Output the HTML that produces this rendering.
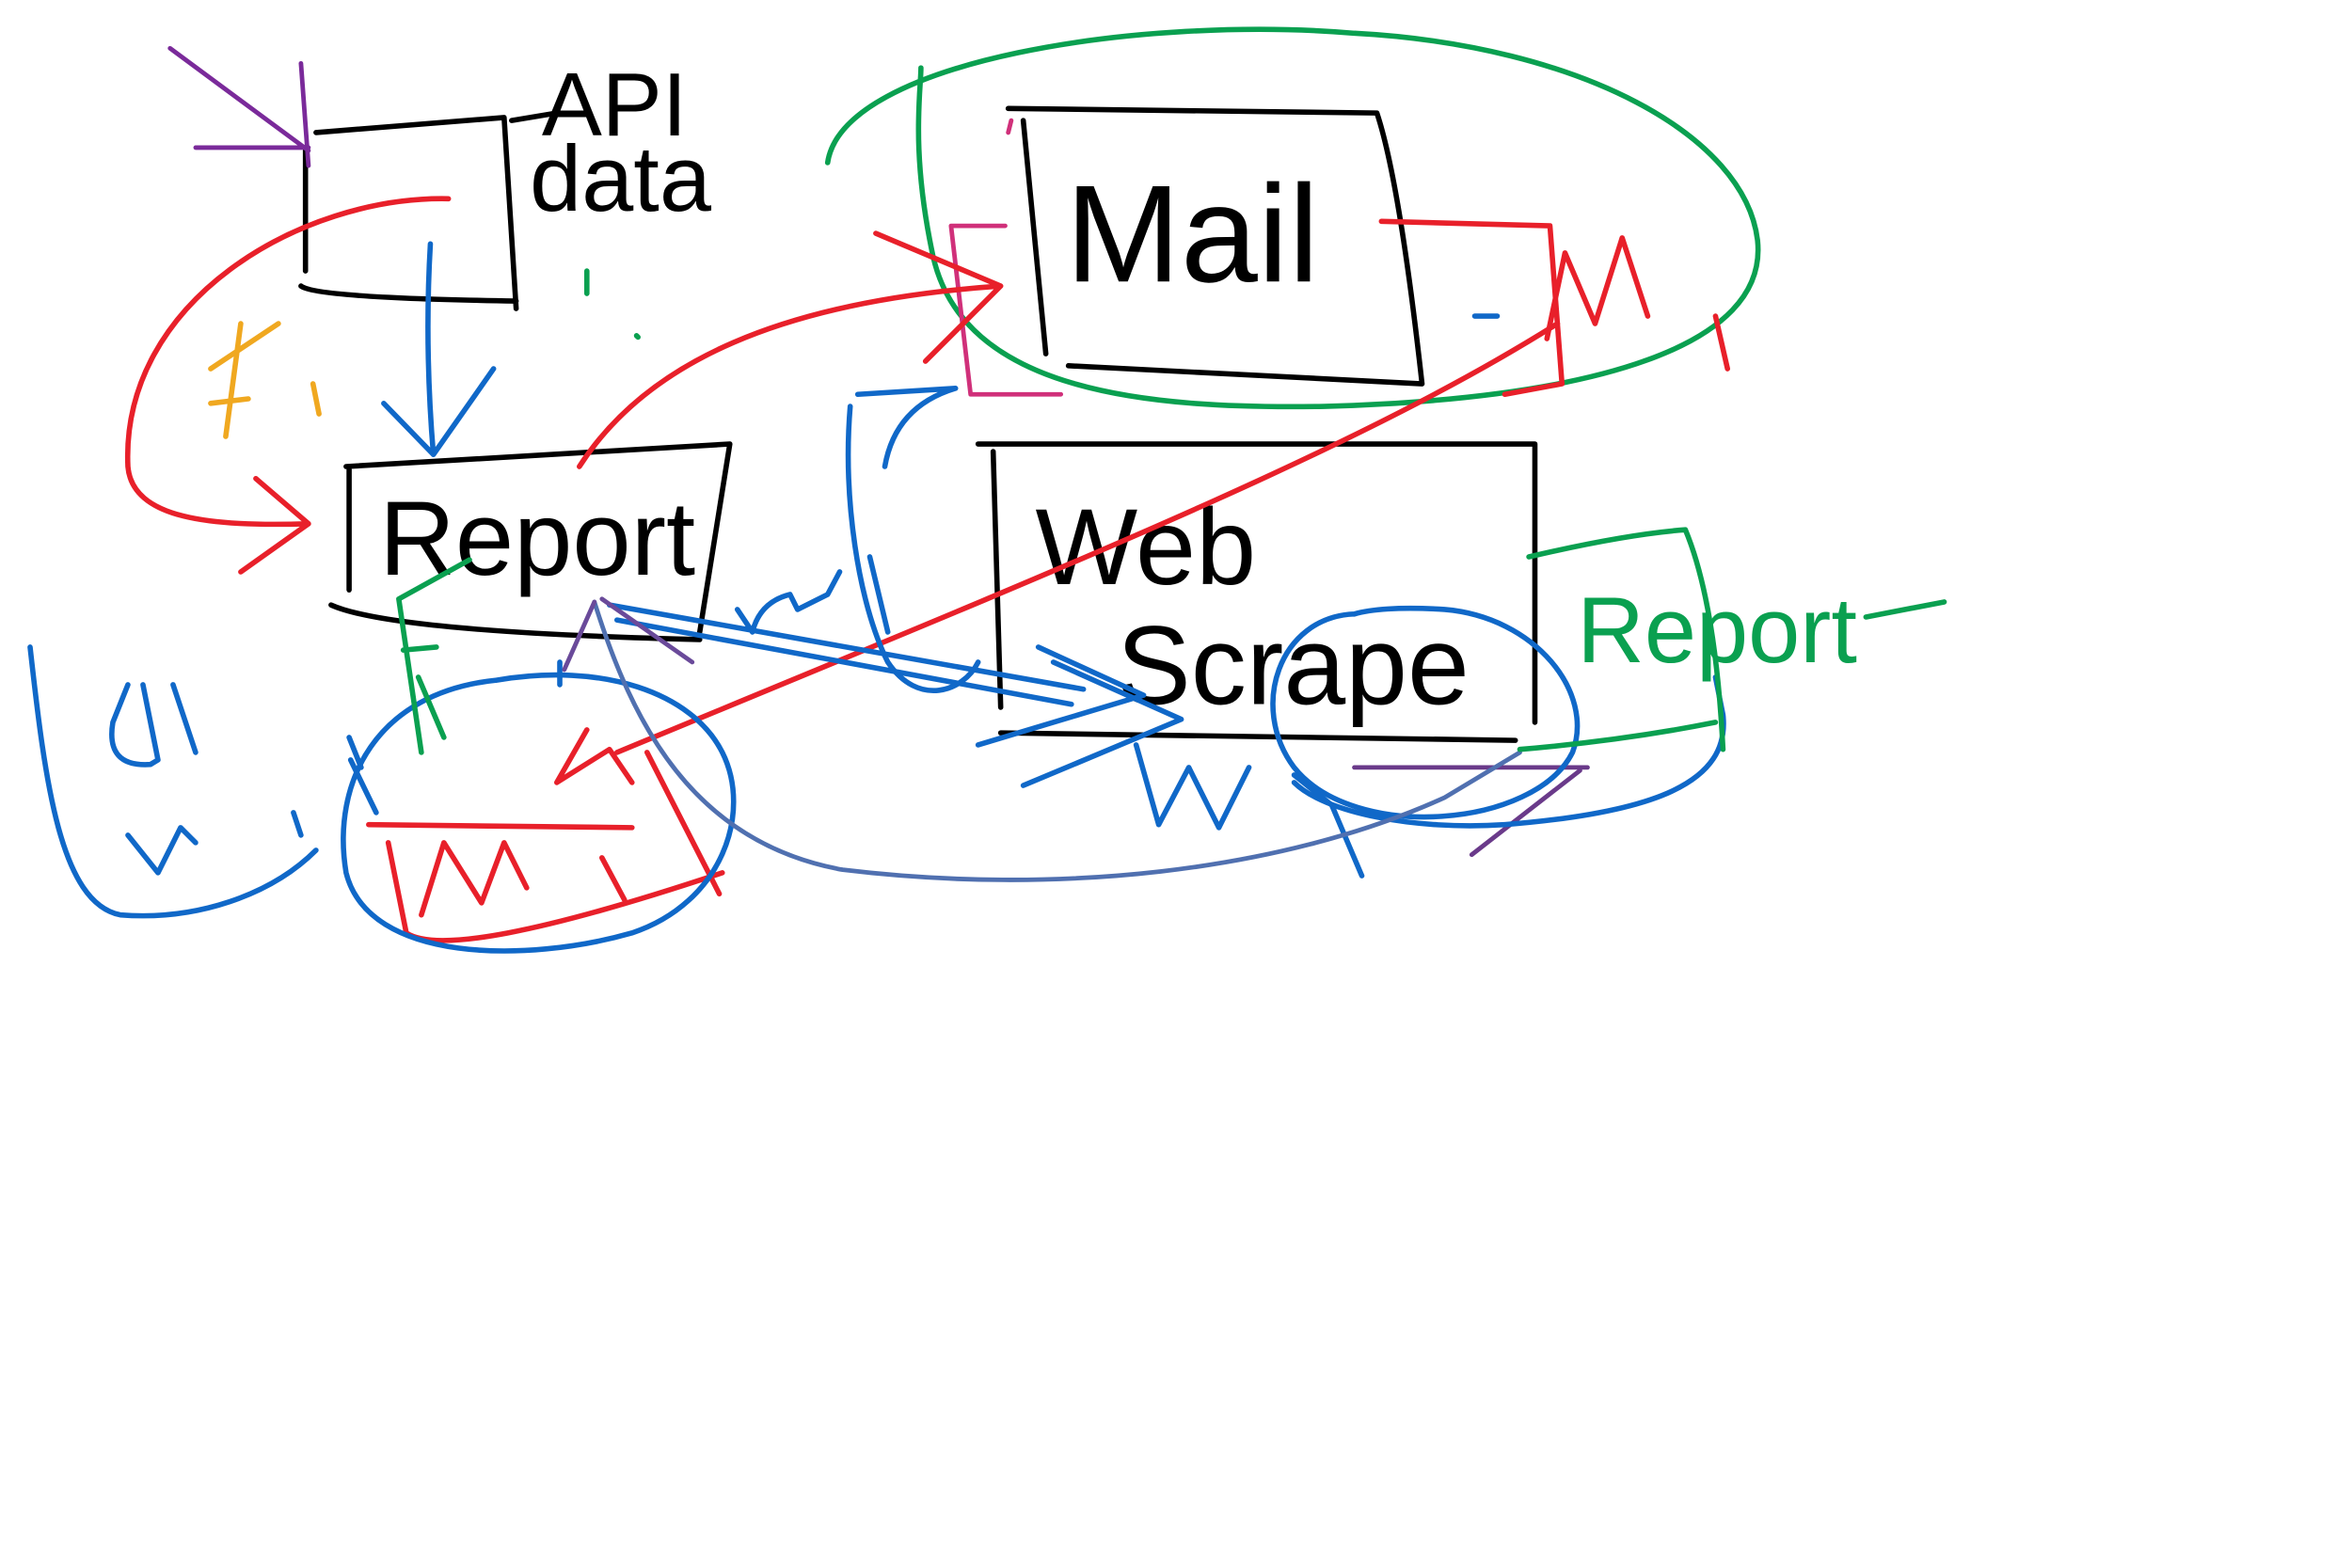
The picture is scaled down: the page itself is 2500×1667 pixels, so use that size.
<!DOCTYPE html>
<html><head><meta charset="utf-8"><style>
html,body{margin:0;padding:0;background:#fff;}
svg{display:block;}
text{font-family:"Liberation Sans",sans-serif;}
</style></head><body>
<svg width="2500" height="1667" viewBox="0 0 1563 1042" xmlns="http://www.w3.org/2000/svg" fill="none" stroke-linecap="round" stroke-linejoin="round">
<rect x="0" y="0" width="1563" height="1042" fill="#fff" stroke="none"/>
<!-- green big ellipse -->
<path d="M550,108 C560,40 760,10 900,22 C1050,30 1160,90 1168,160 C1175,230 1060,265 880,270 C760,272 640,260 620,170 C605,100 612,60 612,45" stroke="#0aa050" stroke-width="3.5"/>
<!-- black boxes -->
<g stroke="#000" stroke-width="3.5">
<path d="M210,88 L335,78 L343,205"/><path d="M203,100 L203,180"/><path d="M200,190 Q210,198 343,200"/>
<path d="M670,72 L915,75 Q930,120 945,255 L710,243"/><path d="M680,80 L695,235"/>
<path d="M230,310 L485,295 L465,420"/><path d="M232,312 L232,392"/><path d="M220,402 Q260,420 465,425"/>
<path d="M650,295 L1020,295 L1020,480"/><path d="M660,300 L665,470"/><path d="M665,487 L1007,492"/>
<path d="M340,80 L370,75"/>
</g>
<g fill="#000" stroke="none">
<text x="360" y="90" font-size="60">API</text>
<text x="352" y="140" font-size="62">data</text>
<text x="708" y="187" font-size="92">Mail</text>
<text x="252" y="382" font-size="70">Report</text>
<text x="688" y="388" font-size="72">Web</text>
<text x="742" y="468" font-size="74">Scrape</text>
</g>
<!-- purple/magenta -->
<path d="M113,32 L205,100 M130,98 L205,98 M200,42 L205,110" stroke="#7a2a9a" stroke-width="3"/>
<path d="M668,150 L632,150 L645,262 L705,262 M672,80 L670,88" stroke="#d0307a" stroke-width="3"/>
<path d="M900,510 L1055,510 M978,568 L1050,512" stroke="#6a3a8a" stroke-width="3"/>
<!-- red -->
<g stroke="#e8202a" stroke-width="3.5">
<path d="M298,132 C200,130 80,200 85,310 C88,345 140,350 205,348 M170,318 L205,348 L160,380"/>
<path d="M385,310 C430,240 520,200 665,190 M582,155 L665,190 L615,240"/>
<path d="M1035,215 C900,300 700,380 410,500 M370,520 L405,498 L420,520 M390,485 L370,520"/>
<path d="M918,147 L1030,150 L1038,255 L1000,262"/>
<path d="M1028,225 L1040,168 L1060,215 L1078,158 L1095,210 M1140,210 L1148,245"/>
<path d="M245,548 L420,550 M258,560 L270,620 Q300,640 480,580 M280,608 L295,560 L320,600 L335,560 L350,590 M400,570 L415,598 M430,500 L478,594"/>
</g>
<!-- blue -->
<g stroke="#1068c8" stroke-width="3.5">
<path d="M286,162 Q282,230 288,302 M255,268 L288,302 L328,245"/>
<path d="M330,452 C250,460 220,520 230,580 C245,640 350,640 420,620 C480,600 500,540 480,500 C460,460 400,440 330,452"/>
<path d="M900,408 C850,410 830,470 860,510 C900,560 1020,550 1045,500 C1060,460 1020,410 960,405 C930,403 910,405 900,408"/>
<path d="M405,402 L720,458 M410,412 L712,468 M690,430 L760,462 L650,495 M700,440 L785,478 L680,522"/>
<path d="M1140,450 L1145,475 C1150,520 1100,540 1000,548 C940,552 880,540 860,520"/>
<path d="M20,430 C30,520 40,600 80,608 C130,612 180,595 210,565"/>
<path d="M85,455 L75,480 Q70,510 100,508 L105,505 M95,455 L105,505 M115,455 L130,500 M85,555 L105,580 L120,550 L130,560 M195,540 L200,555"/>
<path d="M490,405 L500,420 Q505,400 525,395 L530,405 L550,395 L558,380 M578,370 L590,420"/>
<path d="M565,270 C560,330 570,400 590,440 C610,470 640,460 650,440 M588,310 Q595,270 635,258 M570,262 L635,258"/>
<path d="M755,495 L770,548 L790,510 L810,550 L830,510 M860,515 L885,535 L905,582"/>
<path d="M980,210 L995,210"/>
<path d="M372,455 L372,440 M233,505 L250,540 M232,490 L240,510"/>
</g>
<!-- purple arc -->
<path d="M395,400 C420,480 460,560 560,578 C700,595 850,580 960,530 L1010,500" stroke="#5070b0" stroke-width="3"/>
<path d="M395,400 L375,445 M400,398 L460,440" stroke="#6a4a9a" stroke-width="3"/>
<!-- green -->
<g stroke="#0aa050" stroke-width="3.5">
<path d="M1016,370 Q1080,355 1120,352 Q1140,400 1145,498 M1010,498 Q1080,492 1140,480"/>
<path d="M312,372 L265,398 L280,500 M268,432 L290,430 M278,450 L295,490"/>
<path d="M390,180 L390,195 M423,223 L424,224"/>
</g>
<text x="1048" y="440" font-size="62" fill="#0aa050" stroke="none">Report</text>
<path d="M1240,410 L1292,400" stroke="#0aa050" stroke-width="3.5"/>
<!-- orange F -->
<path d="M160,215 L150,290 M140,245 L185,215 M140,268 L165,265 M208,255 L212,275" stroke="#f0a820" stroke-width="3.5"/>
</svg>
</body></html>
